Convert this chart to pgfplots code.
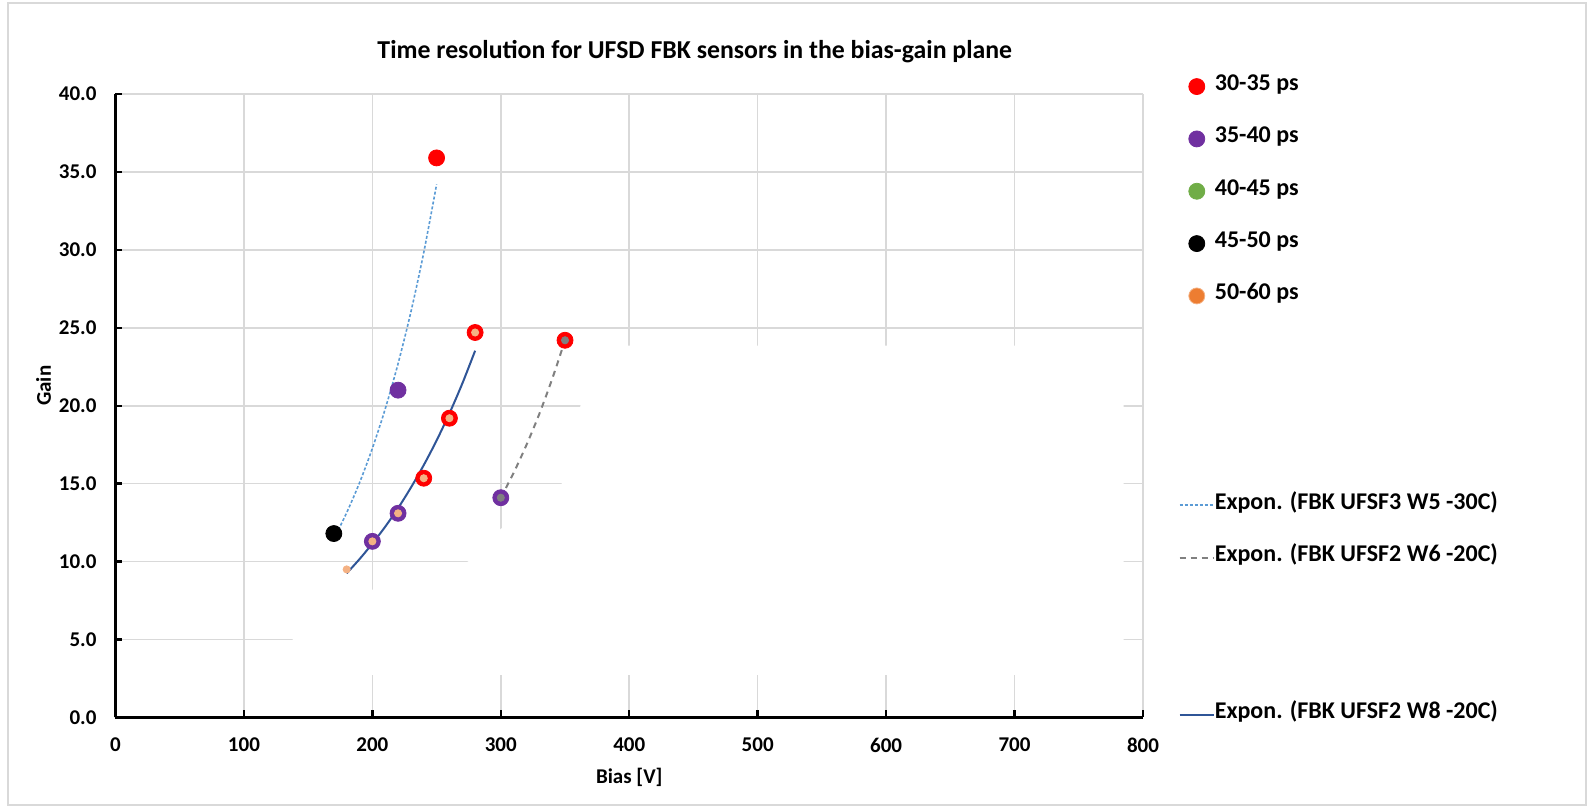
\documentclass[border=0pt]{standalone}
\usepackage{fontspec}
\setmainfont{Carlito}
\usepackage{pgfplots}
\pgfplotsset{compat=1.18}
\definecolor{cRed}{HTML}{FF0000}
\definecolor{cPurple}{HTML}{7030A0}
\definecolor{cGreen}{HTML}{70AD47}
\definecolor{cOrange}{HTML}{ED7D31}
\definecolor{cLOrange}{HTML}{F4B183}
\definecolor{cLBlue}{HTML}{5B9BD5}
\definecolor{cGray}{HTML}{808080}
\definecolor{cDBlue}{HTML}{2F5597}
\definecolor{cGrid}{HTML}{D9D9D9}
\begin{document}
\begin{tikzpicture}
\useasboundingbox (0,0) rectangle (793.5pt,404pt);
\draw[cGrid, line width=1pt] (4pt,1.5pt) rectangle (793pt,402.5pt);
\begin{axis}[
  at={(57.75pt,45.25pt)}, anchor=south west,
  scale only axis, width=513.75pt, height=311.75pt,
  xmin=0, xmax=800, ymin=0, ymax=40,
  xtick={0,100,...,800}, ytick={0,5,...,40},
  axis x line*=bottom, axis y line*=left,
  axis line style={black, line width=1.2pt, -},
  tick align=inside, xtick pos=bottom, ytick pos=left,
  major tick length=3.5pt,
  major tick style={black, line width=1.2pt},
  grid=major, major grid style={cGrid, line width=0.8pt},
  /pgf/number format/assume math mode=true,
  tick label style={font=\fontsize{10.5}{12}\selectfont\bfseries},
  y tick label style={/pgf/number format/fixed, /pgf/number format/fixed zerofill, /pgf/number format/precision=1, xshift=-6pt},
  x tick label style={yshift=-6.8pt},
  title={Time resolution for UFSD FBK sensors in the bias-gain plane},
  title style={font=\fontsize{12.9}{15}\selectfont\bfseries, at={(axis description cs:0.5638,1.048)}, anchor=center},
  xlabel={Bias [V]},
  xlabel style={font=\fontsize{10.5}{12}\selectfont\bfseries, at={(axis description cs:0.5,-0.0954)}, anchor=center},
  ylabel={Gain},
  ylabel style={font=\fontsize{10.5}{12}\selectfont\bfseries, at={(axis description cs:-0.0700,0.532)}, anchor=center},
  legend cell align=left,
  legend style={draw=none, fill=none, at={(axis description cs:1.0344,1.0318)}, anchor=north west,
    inner sep=0pt, row sep=14.17pt, font=\fontsize{12}{14}\selectfont\bfseries,
    nodes={inner sep=0pt, text height=8pt, text depth=4pt},
    /tikz/every even column/.append style={column sep=2pt}},
]
\addlegendimage{only marks, mark=*, mark size=4pt, cRed}
\addlegendentry{30-35 ps}
\addlegendimage{only marks, mark=*, mark size=4pt, cPurple}
\addlegendentry{35-40 ps}
\addlegendimage{only marks, mark=*, mark size=4pt, cGreen}
\addlegendentry{40-45 ps}
\addlegendimage{only marks, mark=*, mark size=4pt, black}
\addlegendentry{45-50 ps}
\addlegendimage{only marks, mark=*, mark size=4pt, mark options={fill=cOrange, draw=cLOrange}}
\addlegendentry{50-60 ps}
\addlegendimage{empty legend}
\addlegendentry{}
\addlegendimage{empty legend}
\addlegendentry{}
\addlegendimage{empty legend}
\addlegendentry{}
\addlegendimage{cLBlue, line width=0.8pt, dash pattern=on 1.5pt off 1pt}
\addlegendentry{Expon. (FBK UFSF3 W5 -30C)}
\addlegendimage{cGray, line width=1pt, dash pattern=on 3pt off 2.5pt}
\addlegendentry{Expon. (FBK UFSF2 W6 -20C)}
\addlegendimage{empty legend}
\addlegendentry{}
\addlegendimage{empty legend}
\addlegendentry{}
\addlegendimage{cDBlue, line width=1pt}
\addlegendentry{Expon. (FBK UFSF2 W8 -20C)}

% white patch hiding part of the grid (as in the original)
\addplot[fill=white, draw=none, forget plot] coordinates {
 (373,23.85) (362,20) (347.5,15) (300,12.1) (274.5,10) (200,8.2) (138,5) (105,2.73) (785,2.73) (785,23.85)} -- cycle;

% time-resolution classes
\addplot[only marks, mark=*, mark size=4pt, cRed, forget plot] coordinates {
 (250,35.9) (280,24.7) (260,19.2) (240,15.35) (350,24.2)};
\addplot[only marks, mark=*, mark size=4pt, cPurple, forget plot] coordinates {
 (220,21.0) (220,13.1) (200,11.3) (300,14.1)};
\addplot[only marks, mark=*, mark size=4pt, black, forget plot] coordinates {
 (170,11.8)};

% sensor series markers
\addplot[only marks, mark=*, mark size=1.8pt, cLOrange, forget plot] coordinates {
 (180,9.5) (200,11.3) (220,13.1) (240,15.35) (260,19.2) (280,24.7)};
\addplot[only marks, mark=*, mark size=1.8pt, cGray, forget plot] coordinates {
 (300,14.1) (350,24.2)};

% exponential trend lines
\addplot[cLBlue, line width=0.8pt, dash pattern=on 1.5pt off 1pt, smooth, forget plot] coordinates {
 (170,11.46) (180,13.14) (190,15.06) (200,17.27) (210,19.80) (220,22.70) (230,26.02) (240,29.83) (250,34.20)};
\addplot[cGray, line width=1pt, dash pattern=on 3pt off 2.5pt, smooth, forget plot] coordinates {
 (300,14.1) (310,15.70) (320,17.49) (330,19.48) (340,21.72) (350,24.2)};
\addplot[cDBlue, line width=1pt, smooth, forget plot] coordinates {
 (180,9.25) (190,10.16) (200,11.16) (210,12.24) (220,13.43) (230,14.75) (240,16.19) (250,17.77) (260,19.51) (270,21.42) (280,23.53)};
\end{axis}
\end{tikzpicture}
\end{document}
